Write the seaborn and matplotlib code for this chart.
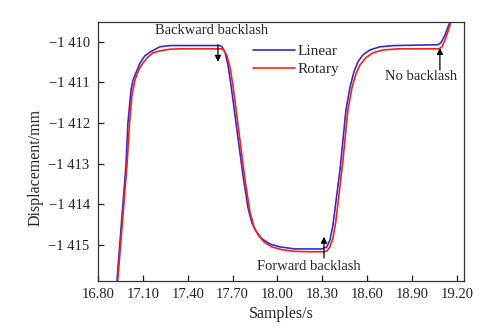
import matplotlib
matplotlib.use("Agg")
import matplotlib.pyplot as plt
from matplotlib.ticker import FuncFormatter
import pandas as pd
import seaborn as sns

# values
t_linear = [16.920, 16.987, 17.000, 17.021, 17.034, 17.081, 17.114, 17.148, 17.214, 17.281,
            17.615, 17.629, 17.649, 17.669, 17.689, 17.769, 17.803, 17.829, 17.856, 17.896,
            17.950, 18.017, 18.117, 18.297, 18.330, 18.351, 18.371, 18.418, 18.458, 18.484,
            18.511, 18.538, 18.571, 18.618, 18.685, 18.785, 19.073, 19.093, 19.120, 19.153,
            19.170]
d_linear = [-1416.20, -1413.03, -1412.00, -1411.18, -1410.94, -1410.52, -1410.34, -1410.25, -1410.12, -1410.09,
            -1410.09, -1410.12, -1410.25, -1410.57, -1411.06, -1413.28, -1414.09, -1414.46, -1414.66, -1414.85,
            -1414.98, -1415.05, -1415.10, -1415.10, -1415.05, -1414.88, -1414.51, -1413.15, -1411.67, -1411.13,
            -1410.74, -1410.49, -1410.32, -1410.20, -1410.12, -1410.09, -1410.07, -1410.02, -1409.83, -1409.51,
            -1409.00]

t_rotary = [16.925, 16.994, 17.011, 17.027, 17.047, 17.074, 17.101, 17.134, 17.168, 17.214,
            17.281, 17.348, 17.629, 17.642, 17.662, 17.682, 17.702, 17.783, 17.816, 17.843,
            17.870, 17.910, 17.963, 18.030, 18.117, 18.217, 18.311, 18.331, 18.351, 18.371,
            18.390, 18.411, 18.438, 18.471, 18.498, 18.524, 18.551, 18.591, 18.638, 18.705,
            18.805, 19.080, 19.100, 19.126, 19.160, 19.180]
d_rotary = [-1416.20, -1413.03, -1412.00, -1411.31, -1410.94, -1410.67, -1410.52, -1410.37, -1410.27, -1410.22,
            -1410.18, -1410.17, -1410.17, -1410.21, -1410.34, -1410.62, -1411.06, -1413.40, -1414.19, -1414.56,
            -1414.75, -1414.93, -1415.05, -1415.12, -1415.16, -1415.17, -1415.17, -1415.15, -1415.05, -1414.83,
            -1414.43, -1413.77, -1412.91, -1411.67, -1411.13, -1410.79, -1410.57, -1410.39, -1410.27, -1410.20,
            -1410.17, -1410.17, -1410.12, -1409.90, -1409.51, -1409.00]

x_ticks = [16.80, 17.10, 17.40, 17.70, 18.00, 18.30, 18.60, 18.90, 19.20]
y_ticks = [-1415, -1414, -1413, -1412, -1411, -1410]

df = pd.concat([
    pd.DataFrame({"t": t_linear, "d": d_linear, "series": "Linear"}),
    pd.DataFrame({"t": t_rotary, "d": d_rotary, "series": "Rotary"}),
], ignore_index=True)

sns.set_style("ticks")
plt.rcParams["font.family"] = ["Liberation Serif", "DejaVu Serif"]

fig = plt.figure(figsize=(4.98, 3.28), dpi=100)
ax = fig.add_axes([0.1968, 0.1433, 0.7349, 0.7896])

sns.lineplot(data=df, x="t", y="d", hue="series", hue_order=["Linear", "Rotary"],
             palette={"Linear": "#2e2ed0", "Rotary": "#ff1c1c"},
             sort=False, estimator=None, linewidth=1.2, ax=ax)

ax.set_xlim(16.80, 19.247)
ax.set_ylim(-1415.89, -1409.51)
ax.set_xticks(x_ticks)
ax.set_yticks(y_ticks)
ax.xaxis.set_major_formatter(FuncFormatter(lambda v, p: f"{v:.2f}"))


def fmt_y(v, p):
    s = f"{abs(int(round(v))):,}".replace(",", " ")
    return ("\u2212" + s) if v < 0 else s


ax.yaxis.set_major_formatter(FuncFormatter(fmt_y))
ax.tick_params(direction="in", length=4, width=0.9, labelsize=10.5, colors="#222222",
               top=False, right=False)
ax.tick_params(axis="y", pad=6)
ax.tick_params(axis="x", pad=5)
for sp in ax.spines.values():
    sp.set_visible(True)
    sp.set_linewidth(0.9)
    sp.set_color("#333333")

ax.set_xlabel("Samples/s", fontsize=11.5, labelpad=4)
ax.set_ylabel("Displacement/mm", fontsize=11.5)
ax.yaxis.set_label_coords(-0.148, 0.44)

ax.legend(loc="upper left", bbox_to_anchor=(0.4235, 0.912), frameon=False, fontsize=11,
          handlelength=2.75, labelspacing=0.25, borderaxespad=0.0, borderpad=0.0,
          handletextpad=0.15)

arrow = dict(arrowstyle="-|>", color="black", lw=0.9, mutation_scale=9,
             shrinkA=0, shrinkB=0)
ax.annotate("", xy=(17.602, -1410.49), xytext=(17.602, -1410.07), arrowprops=arrow)
ax.text(17.559, -1409.72, "Backward backlash", ha="center", va="center", fontsize=10.5)
ax.annotate("", xy=(19.086, -1410.15), xytext=(19.086, -1410.69), arrowprops=arrow)
ax.text(18.962, -1410.86, "No backlash", ha="center", va="center", fontsize=10.5)
ax.annotate("", xy=(18.311, -1414.80), xytext=(18.311, -1415.32), arrowprops=arrow)
ax.text(18.207, -1415.54, "Forward backlash", ha="center", va="center", fontsize=10.5)

fig.savefig("out.png", dpi=100)
